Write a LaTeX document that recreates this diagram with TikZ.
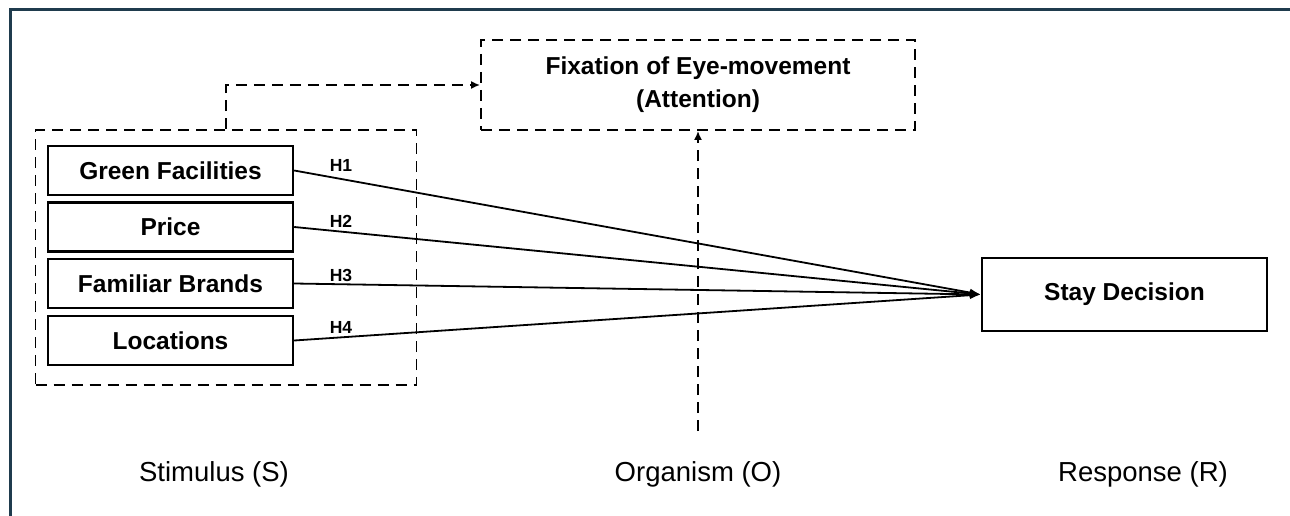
\documentclass[tikz,border=0pt]{standalone}
\usepackage{fontspec}
\setmainfont{Liberation Sans}
\usetikzlibrary{arrows.meta}
\definecolor{framecol}{HTML}{1F3B4D}
\begin{document}
\begin{tikzpicture}[x=1pt,y=-1pt,
  factor/.style={draw, line width=2.4pt, minimum width=245pt, minimum height=49pt, inner sep=0pt, font=\fontsize{24.5}{28}\selectfont\bfseries},
  outbox/.style={draw, line width=2.4pt, minimum width=285pt, minimum height=73pt, inner sep=0pt, font=\fontsize{24.5}{28}\selectfont\bfseries},
  dbox/.style={draw, line width=1.8pt, dash pattern=on 11pt off 7pt, inner sep=0pt},
  darrow/.style={line width=1.8pt, dash pattern=on 11pt off 7pt, -{Latex[length=9pt,width=8pt]}},
  sarrow/.style={line width=1.8pt, -{Latex[length=11pt,width=8pt]}},
  hlbl/.style={font=\fontsize{17.5}{20}\selectfont\bfseries, inner sep=0pt},
  stage/.style={font=\fontsize{27.5}{32}\selectfont, inner sep=0pt},
  framerule/.style={draw=framecol, line width=3pt}
]
\useasboundingbox (0,0) rectangle (1290,516);
\fill[white] (0,0) rectangle (1290,516);
\draw[framerule] (10,517) -- (10,10) -- (1291,10);

% stimulus group
\node[dbox, minimum width=381pt, minimum height=255pt] (stim) at (226,257.5) {};
\node[factor] (gf) at (170.5,170.5) {Green Facilities};
\node[factor] (pr) at (170.5,227) {Price};
\node[factor] (fb) at (170.5,283.5) {Familiar Brands};
\node[factor] (lo) at (170.5,340.5) {Locations};

% organism
\node[dbox, minimum width=434pt, minimum height=90pt, align=center,
      font=\fontsize{24.5}{33}\selectfont\bfseries] (fix) at (698,85)
      {Fixation of Eye-movement\\(Attention)};

% response
\node[outbox] (stay) at (1124.5,294.5) {Stay Decision};

% connectors
\draw[darrow] (stim.north) |- (fix.west);
\coordinate (ofoot) at (698,431);
\draw[darrow] (ofoot) -- (fix.south);
\draw[sarrow] (gf.east) -- (stay.west);
\draw[sarrow] (pr.east) -- (stay.west);
\draw[sarrow] (fb.east) -- (stay.west);
\draw[sarrow] (lo.east) -- (stay.west);

% hypothesis labels
\node[hlbl] (h1) at (341,165) {H1};
\node[hlbl] (h2) at (341,221) {H2};
\node[hlbl] (h3) at (341,275) {H3};
\node[hlbl] (h4) at (341,327) {H4};

% stage labels
\node[stage] (s) at (214,474) {Stimulus (S)};
\node[stage] (o) at (698,474) {Organism (O)};
\node[stage] (r) at (1143,474) {Response (R)};
\end{tikzpicture}
\end{document}
